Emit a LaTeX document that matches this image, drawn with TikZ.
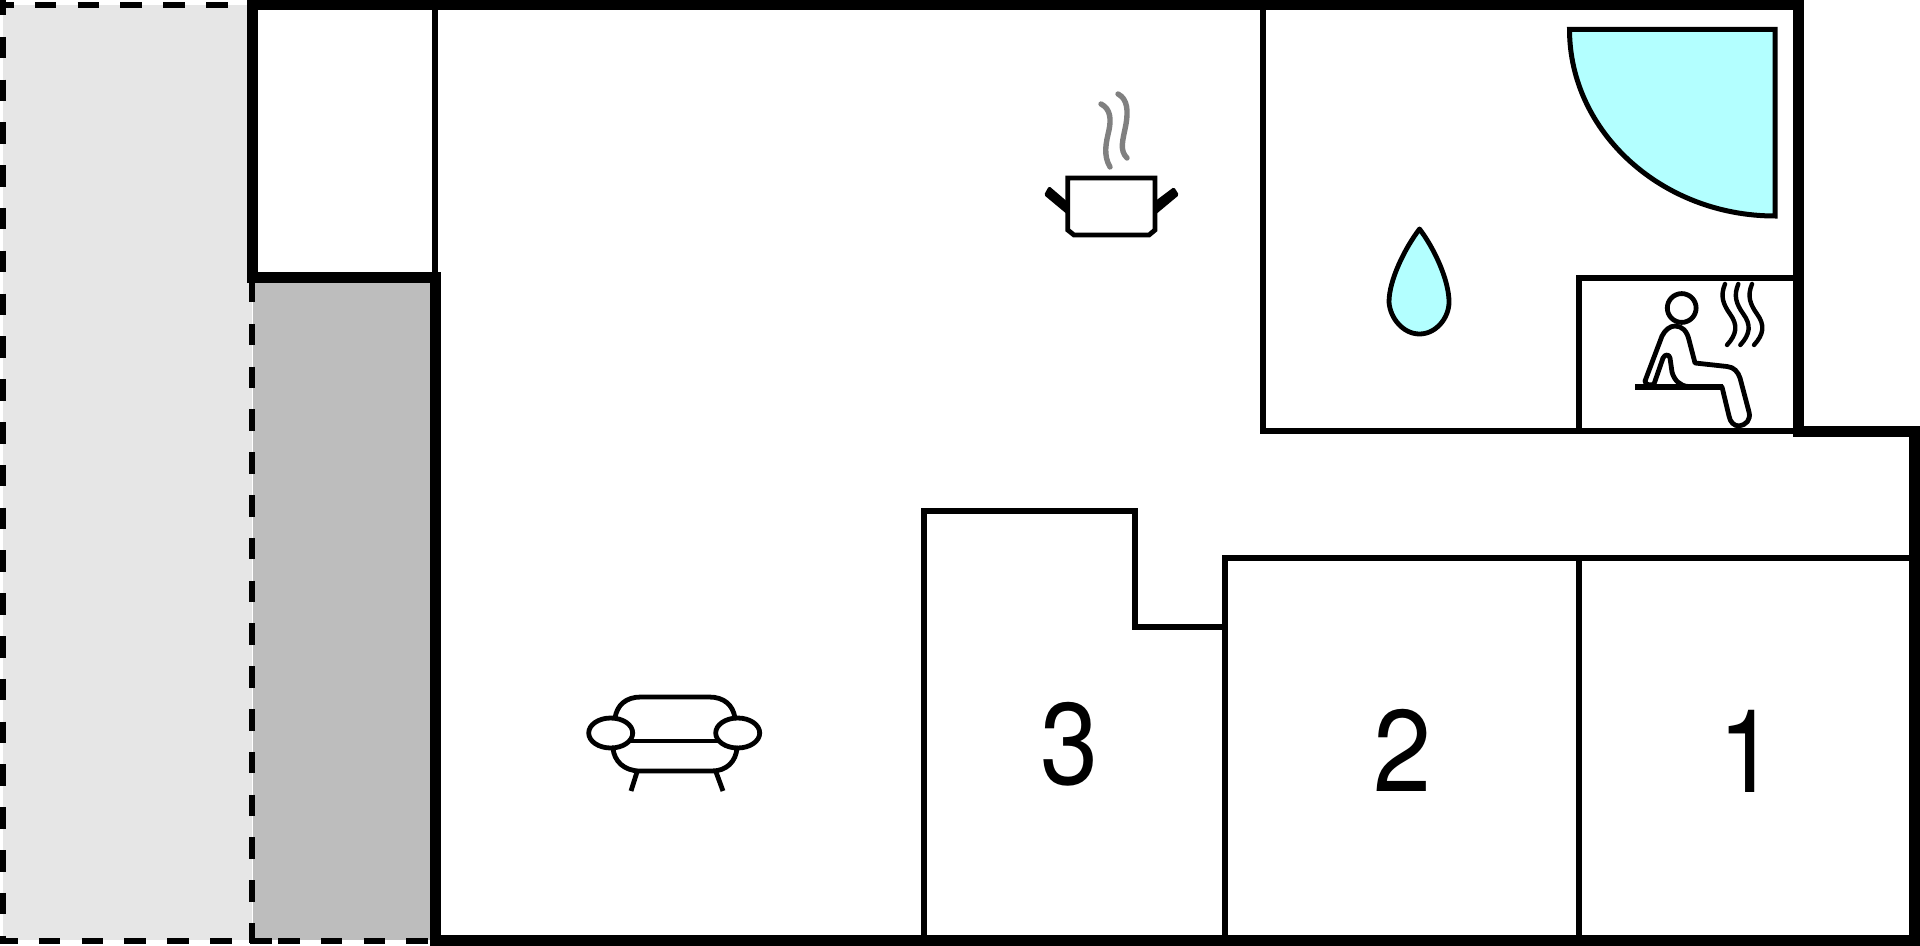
\documentclass[tikz,border=0pt]{standalone}
\usepackage{fontspec}
\setmainfont{TeX Gyre Heros}
\definecolor{pale}{HTML}{E6E6E6}
\definecolor{midgrey}{HTML}{BDBDBD}
\definecolor{aqua}{HTML}{B3FFFF}
\definecolor{steamgrey}{HTML}{808080}
\tikzset{
  thickwall/.style={line width=5.5pt,miter limit=10},
  thinwall/.style={line width=3pt},
  dashedge/.style={line width=3pt,dash pattern=on 10.75pt off 10.65pt},
  icon/.style={line width=2.4pt,line cap=round,line join=round},
  steam/.style={line width=2.7pt,line cap=round,steamgrey},
  digit/.style={inner sep=0pt,xscale=0.9,font=\fontsize{58}{58}\selectfont}
}
\begin{document}
\begin{tikzpicture}[x=0.5pt,y=-0.5pt]
\useasboundingbox (0,0) rectangle (1920,946);
\clip (0,0) rectangle (1920,946);
% grey areas
\fill[pale] (3,5) rectangle (252,940);
\fill[midgrey] (253,283) rectangle (430,940);
% dashed edges
\draw[dashedge] (2.5,-6) -- (2.5,943);
\draw[dashedge] (-8,5.5) -- (240,5.5);
\draw[dashedge] (-4,940.5) -- (240,940.5);
\draw[dashedge] (252.3,281) -- (252.3,943);
\draw[dashedge] (250,940.5) -- (272,940.5);
\draw[dashedge] (278,940.5) -- (430,940.5);
% thin walls
\draw[thinwall] (434.7,8) -- (434.7,276);
\draw[thinwall] (1263,8) -- (1263,431) -- (1795,431);
\draw[thinwall] (1578.5,431) -- (1578.5,278) -- (1795,278);
\draw[thinwall] (923.5,938) -- (923.5,511) -- (1134.5,511) -- (1134.5,627) -- (1224.5,627);
\draw[thinwall] (1224.5,938) -- (1224.5,558) -- (1911,558);
\draw[thinwall] (1578.5,558) -- (1578.5,938);
% thick walls
\draw[thickwall] (252,283) -- (252,5) -- (1798,5) -- (1798,431) -- (1914.5,431) -- (1914.5,940.5) -- (435,940.5) -- (435,278) -- (247,278);
% shower
\draw[line width=2.5pt,fill=aqua,line join=miter] (1569.5,29.5) -- (1775,29.5) -- (1775,216)
  .. controls (1662,216) and (1569.5,132) .. cycle;
% drop
\draw[icon,fill=aqua] (1419.5,229) .. controls (1405,248) and (1389,280) .. (1389,302)
  .. controls (1390,318) and (1403,334) .. (1419.5,334)
  .. controls (1436,334) and (1449,318) .. (1449,302)
  .. controls (1449,280) and (1434,248) .. (1419.5,229) -- cycle;
% pot
\draw[line width=2.4pt,line join=miter] (1067.7,178) -- (1155,178) -- (1155,230) -- (1149,235) -- (1074,235) -- (1067.7,230) -- cycle;
\fill[rounded corners=0.8pt] (1044,195) -- (1049,186) -- (1070,204) -- (1068,215) -- cycle;
\fill[rounded corners=0.8pt] (1179,195) -- (1174,187) -- (1154,202) -- (1155,215) -- cycle;
\draw[steam] (1101,104) .. controls (1111,109) and (1111,120) .. (1109,130)
  .. controls (1106,143) and (1103,155) .. (1110,167);
\draw[steam] (1118,94) .. controls (1128,99) and (1128,112) .. (1126,124)
  .. controls (1123,140) and (1119,150) .. (1127,158);
% sauna figure
\draw[icon] (1681.7,308) circle[radius=7.2pt];
\draw[icon] (1645,381) -- (1662,336) .. controls (1665,330) and (1670,326) .. (1675,326)
  .. controls (1682,326) and (1687,331) .. (1689,340) -- (1695,363) -- (1727,366.5)
  .. controls (1734,367) and (1738,372) .. (1740,378) -- (1749,412)
  .. controls (1751,420) and (1746,425) .. (1739,426)
  .. controls (1734,426) and (1730,422) .. (1729,416) -- (1722,387);
\draw[icon] (1645,381) .. controls (1645,385) and (1651,386) .. (1654,384)
  -- (1663,358) .. controls (1665,354) and (1669,354) .. (1670,358)
  -- (1672,372) .. controls (1674,380) and (1680,386) .. (1688,386.5);
\draw[line width=2.7pt] (1635,387) -- (1723,387);
\foreach \dx in {0,13.3,27}{
  \draw[line width=2.2pt,line cap=round] (1725+\dx,284) .. controls (1720+\dx,296) and (1723+\dx,304) .. (1730+\dx,314)
    .. controls (1738+\dx,325) and (1737+\dx,334) .. (1727+\dx,345);
}
% sofa
\draw[icon] (615,718) .. controls (617,705) and (626,697) .. (641,697) -- (709,697)
  .. controls (724,697) and (733,705) .. (735,718);
\draw[icon] (632,741) -- (717,741);
\draw[icon] (613,748) .. controls (614,761) and (624,771) .. (640,771) -- (712,771)
  .. controls (727,771) and (736,761) .. (737,748);
\draw[icon,line cap=butt] (637,772) -- (631,791);
\draw[icon,line cap=butt] (716,772) -- (723,791);
\draw[icon] (610.7,733) ellipse[x radius=22,y radius=15];
\draw[icon] (737.7,733) ellipse[x radius=22,y radius=15];
% numbers
\node[digit] (n3) at (1069.5,744.5) {3};
\node[digit] (n2) at (1402.5,750) {2};
\node[digit] (n1) at (1747,751) {1};
\end{tikzpicture}
\end{document}
